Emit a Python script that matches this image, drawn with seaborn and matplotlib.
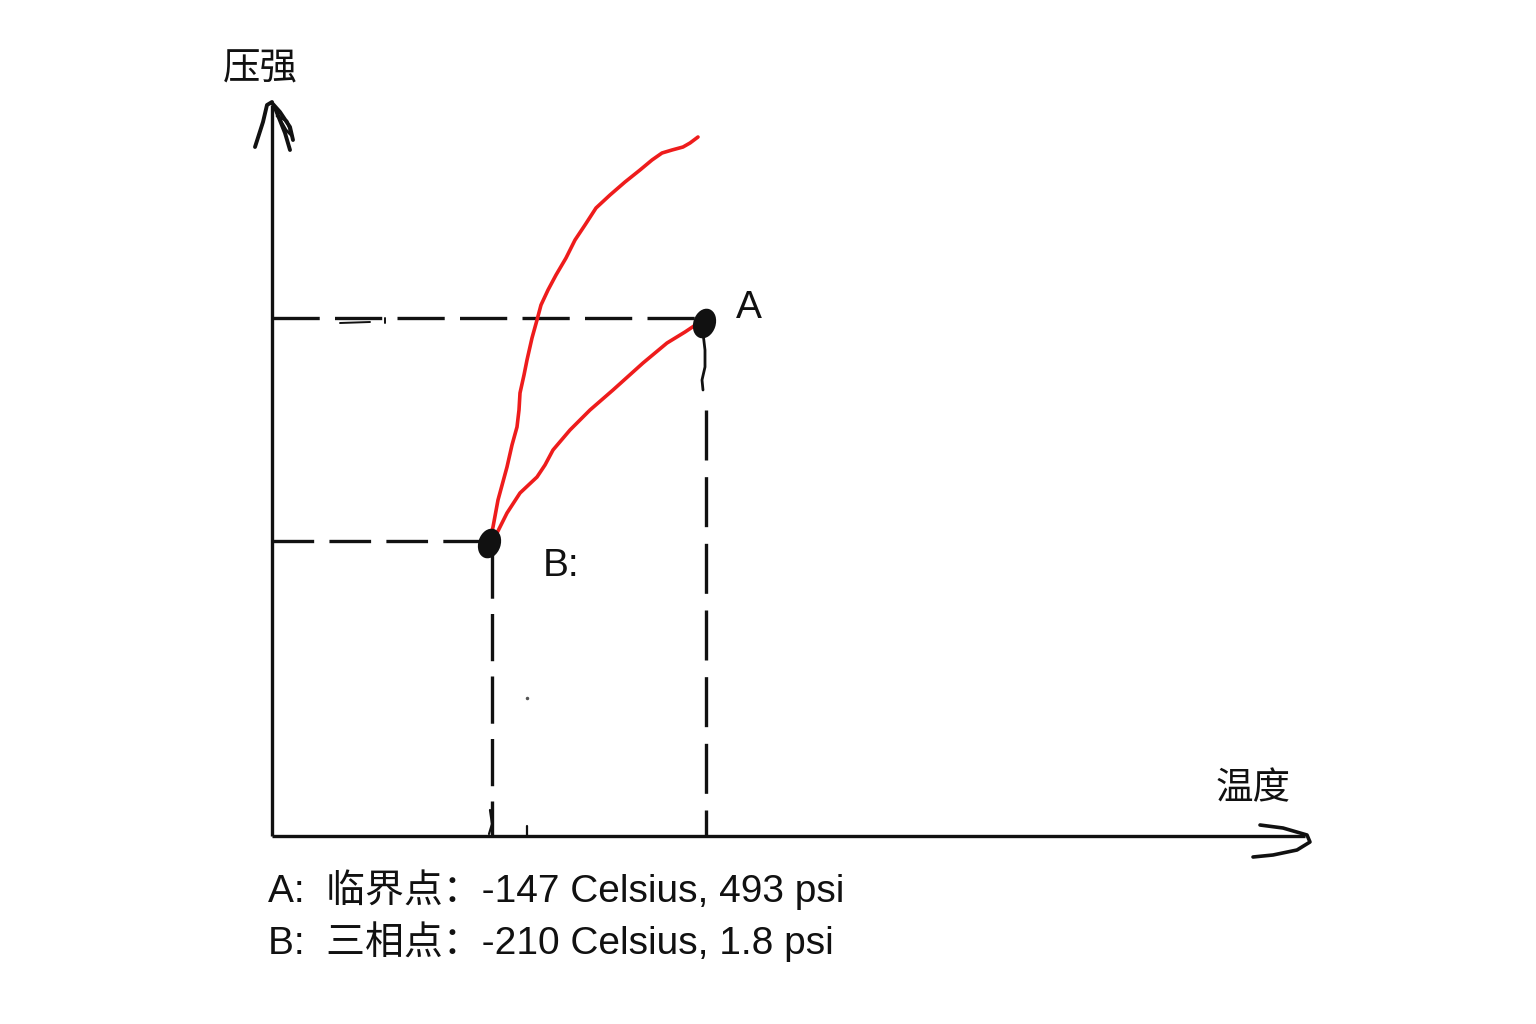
import matplotlib
matplotlib.use("Agg")
import matplotlib.pyplot as plt
from matplotlib.path import Path
from matplotlib.transforms import Affine2D
import seaborn as sns
import pandas as pd

# ---------------- data (arbitrary temperature / pressure units) ----------------
# upper red curve (from triple point B upward)
curve1_T = [21.8, 22.1, 22.6, 23.5, 24.0, 24.5, 24.7, 24.8, 25.2, 25.5, 26.0, 26.5,
            26.9, 27.6, 28.4, 29.4, 30.3, 31.3, 32.4, 33.8, 35.3, 36.8, 38.0, 39.0,
            40.0, 41.1, 41.8, 42.6]
curve1_P = [29.6, 30.9, 33.6, 36.9, 39.1, 40.9, 42.6, 44.3, 46.1, 47.6, 49.8, 51.6,
            53.1, 54.6, 56.1, 57.8, 59.6, 61.1, 62.8, 64.1, 65.4, 66.6, 67.6, 68.3,
            68.6, 68.9, 69.3, 69.9]
# lower red curve (from B to critical point A)
curve2_T = [21.8, 22.5, 23.5, 24.8, 26.5, 27.3, 28.1, 29.8, 31.8, 34.1, 37.1, 39.5, 41.3, 42.8]
curve2_P = [29.8, 30.3, 32.3, 34.3, 35.9, 37.1, 38.6, 40.6, 42.6, 44.6, 47.3, 49.3, 50.4, 51.4]

point_names = ["A", "B"]
point_T = [43.2, 21.7]
point_P = [51.3, 29.3]

guide_T = [43.4, 22.0]   # critical / triple temperature guides
guide_P = [51.8, 29.5]   # critical / triple pressure guides

label_y = "压强"
label_x = "温度"
notes = ["A:  临界点：-147 Celsius, 493 psi",
         "B:  三相点：-210 Celsius, 1.8 psi"]

# ---------------- figure ----------------
sns.set_theme(style="white")
plt.rcParams["font.family"] = ["Liberation Sans", "Noto Sans CJK SC", "DejaVu Sans"]
plt.rcParams["lines.scale_dashes"] = False

fig = plt.figure(figsize=(15.36, 10.24), dpi=100)
fig.patch.set_facecolor("white")
ax = fig.add_axes([0, 0, 1, 1])
ax.set_xlim(-27.2, 126.4)
ax.set_ylim(-18.8, 83.6)
ax.axis("off")

K = "#111111"
LW = 2.4

# axes drawn by hand
ax.plot([0, 103.3], [0, 0], color=K, lw=LW, solid_capstyle="butt")
ax.plot([0, 0], [0, 73.1], color=K, lw=LW, solid_capstyle="butt")
# x arrow head (hand-drawn)
ax.plot([98.8, 101.1, 103.5, 103.8, 102.5, 100.1, 98.1],
        [1.1, 0.8, 0.1, -0.6, -1.4, -1.9, -2.1], color=K, lw=2.6,
        solid_capstyle="round", solid_joinstyle="round")
# y arrow head (scribbled)
ax.plot([-1.7, -0.9, -0.5, 0.0], [68.9, 71.4, 73.1, 73.4], color=K, lw=2.8, solid_capstyle="round")
ax.plot([0.0, 0.8, 1.8, 2.1], [73.3, 72.4, 70.9, 69.6], color=K, lw=2.8, solid_capstyle="round")
ax.plot([0.3, 1.3, 1.8], [72.8, 70.3, 68.6], color=K, lw=2.8, solid_capstyle="round")
ax.plot([0.5, 1.5, 2.0, 1.4, 0.6], [72.0, 71.5, 70.0, 70.6, 72.0], color=K, lw=2.0)

# dashed guide lines
ax.plot([0, guide_T[0]], [guide_P[0], guide_P[0]], color=K, lw=LW, linestyle=(0, (34, 11)))
ax.plot([0, guide_T[1] - 0.3], [guide_P[1], guide_P[1]], color=K, lw=LW, linestyle=(0, (30, 11)))
ax.plot([guide_T[0], guide_T[0]], [42.6, 0], color=K, lw=LW, linestyle=(0, (36, 12)))
ax.plot([guide_T[1], guide_T[1]], [guide_P[1] - 1.0, 0], color=K, lw=LW, linestyle=(0, (34, 11)))
# short solid wiggle below A
ax.plot([43.1, 43.3, 43.3, 43.0, 43.1], [50.3, 48.6, 46.9, 45.6, 44.6], color=K, lw=2.0)
# stray pencil marks
ax.plot([6.8, 9.8], [51.3, 51.4], color=K, lw=1.4)
ax.plot([11.3, 11.3], [51.8, 51.3], color=K, lw=1.4)
ax.plot([25.5, 25.5], [1.0, 0], color=K, lw=1.6)
ax.plot([21.8, 22.0, 21.7], [2.6, 1.2, 0.2], color=K, lw=1.6)
ax.plot([25.5], [13.8], marker="o", ms=1.5, color="#555555")

# red phase boundaries
sns.lineplot(x=curve1_T, y=curve1_P, sort=False, estimator=None, color="#ee1c1c",
             lw=2.6, ax=ax)
sns.lineplot(x=curve2_T, y=curve2_P, sort=False, estimator=None, color="#ee1c1c",
             lw=2.6, ax=ax)

# critical / triple points (hand-inked tall blobs)
blob = Path.unit_circle().transformed(Affine2D().scale(0.72, 1.0).rotate_deg(-18))
pts = pd.DataFrame({"T": point_T, "P": point_P, "name": point_names})
sns.scatterplot(data=pts, x="T", y="P", color=K, s=420, marker=blob, edgecolor=K,
                linewidth=1.5, ax=ax, zorder=5, legend=False)

# labels
ax.text(47.7, 52.8, "A", fontsize=28, ha="center", va="center", color=K)
ax.text(27.1, 27.0, "B:", fontsize=28, ha="left", va="center", color=K)
ax.text(-1.2, 76.7, label_y, fontsize=27, ha="center", va="center", color=K)
ax.text(98.1, 4.7, label_x, fontsize=27, ha="center", va="center", color=K)
ax.text(-0.4, -5.4, notes[0], fontsize=28, ha="left", va="center", color=K)
ax.text(-0.4, -10.6, notes[1], fontsize=28, ha="left", va="center", color=K)

fig.savefig("out.png", dpi=100, facecolor="white")
